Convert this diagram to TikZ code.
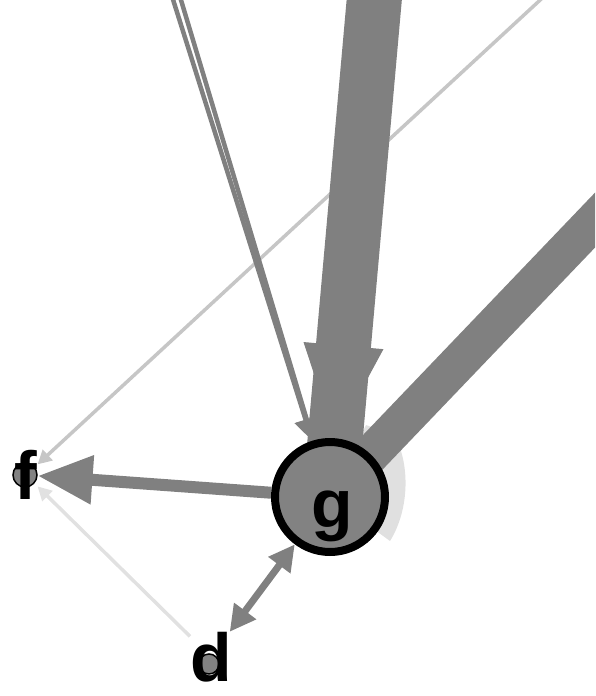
\documentclass[tikz,border=0pt]{standalone}
\usepackage{fontspec}
\newfontfamily\nodefont{Liberation Sans}
\usepackage{tikz}
\usetikzlibrary{arrows.meta,calc,backgrounds}
\definecolor{edgegray}{RGB}{128,128,128}
\definecolor{nodegray}{RGB}{130,130,130}
\definecolor{faintgray}{RGB}{198,198,198}
\definecolor{palegray}{RGB}{225,225,225}
\definecolor{halogray}{RGB}{224,224,224}

\begin{document}
\begin{tikzpicture}[
    x=1pt, y=-1pt,
    hub/.style={circle, draw=black, line width=8pt, fill=nodegray,
                minimum size=110pt, inner sep=0pt},
    leaf/.style={circle, draw=black, line width=1.5pt, fill=nodegray, inner sep=0pt},
    lbl/.style={font=\nodefont\bfseries\fontsize{68}{68}\selectfont, inner sep=0pt},
    link/.style={draw=edgegray, line cap=butt},
    faint/.style={draw=faintgray, line width=3.5pt},
    pale/.style={draw=palegray, line width=3.5pt}
]
\useasboundingbox (0,0) rectangle (595,696);

\node[hub] (g) at (330,497) {};
\node[leaf, minimum size=24pt] (fdot) at (25,475) {};
\node[leaf, minimum size=20pt] (ddot) at (209,664) {};
\node[lbl] (glbl) at (332,516) {g};
\node[lbl] (f) at (26,475) {f};
\node[lbl] (d) at (211,657) {d};

% sources outside the crop
\coordinate (srcA) at (376,-20);
\coordinate (srcB) at (620,194);
\coordinate (srcC) at (170,-10);
\coordinate (srcE) at (178,-10);
\coordinate (srcD) at (551,-10);

\begin{scope}[on background layer]
    \clip (0,0) rectangle (595,696);
    \fill[halogray] ($(g)+(36,-72)$) -- ($(g)+(64,-62)$)
        .. controls ($(g)+(80,-35)$) and ($(g)+(80,12)$) .. ($(g)+(60,44)$)
        -- (g.center) -- cycle;
    \draw[faint, -{Triangle[width=14pt, length=14pt]}] (srcD) -- (f);
    \draw[pale, -{Triangle[width=14pt, length=14pt]}] (d) -- (f);
    \draw[link, line width=4.5pt, -{Triangle[width=22pt, length=22pt]}] (srcC) -- (g);
    \draw[link, line width=4.5pt, -{Triangle[width=22pt, length=22pt]}] (srcE) -- (g);
    \draw[link, line width=38pt] (srcB) -- (g.center);
    \draw[link, line width=55pt] (srcA) -- (g.center);
    \draw[link, line width=1pt, -{Triangle[width=80pt, length=93pt]}] (srcA) -- (g);
    \draw[link, line width=12pt, -{Triangle[width=46pt, length=55pt]}] (g) -- (f);
    \draw[link, line width=7pt, {Triangle[width=26pt, length=26pt]}-{Triangle[width=26pt, length=26pt]}] (g) -- (d);
\end{scope}
\end{tikzpicture}
\end{document}
